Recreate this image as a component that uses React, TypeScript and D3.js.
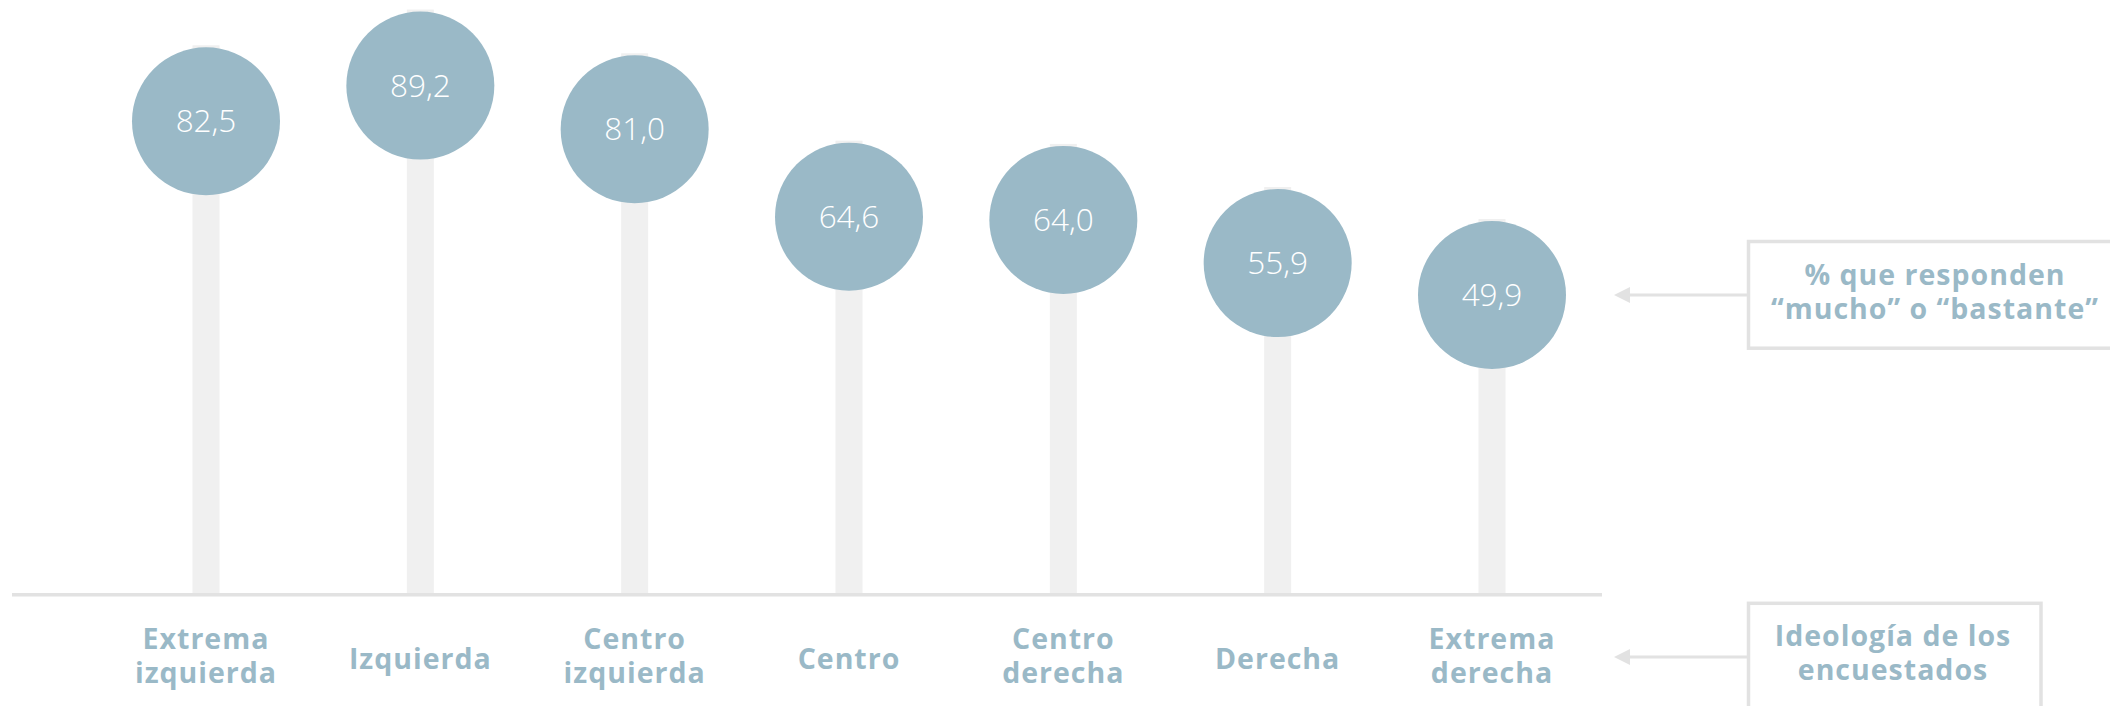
import React from "react";
import * as d3 from "d3";

const categories = [
  "Extrema izquierda",
  "Izquierda",
  "Centro izquierda",
  "Centro",
  "Centro derecha",
  "Derecha",
  "Extrema derecha",
];
const labelLines = [
  ["Extrema", "izquierda"],
  ["Izquierda"],
  ["Centro", "izquierda"],
  ["Centro"],
  ["Centro", "derecha"],
  ["Derecha"],
  ["Extrema", "derecha"],
];
const values = [82.5, 89.2, 81.0, 64.6, 64.0, 55.9, 49.9];
const valueNote = ["% que responden", "\u201cmucho\u201d o \u201cbastante\u201d"];
const axisNote = ["Ideología de los", "encuestados"];

const W = 2110;
const H = 706;
const BLUE = "#9ab9c7";
const STEM = "#f0f0f0";
const GREY = "#e2e2e2";
const R = 74;
const AXIS_Y = 593;

const locale = d3.formatLocale({ decimal: ",", thousands: ".", grouping: [3], currency: ["", "€"] });
const fmt = locale.format(".1f");

export default function App() {
  const x = d3.scalePoint<string>().domain(categories).range([206, 1492]);
  const y = d3.scaleLinear().domain([0, 100]).range([561, 28]);
  const lastY = y(values[values.length - 1]);
  const font = "'Open Sans', sans-serif";

  return (
    <svg
      width={W}
      height={H}
      style={{ position: "absolute", left: 0, top: 0, background: "#fff" }}
    >
      {/* stems */}
      {categories.map((c, i) => {
        const cx = x(c)!;
        const cy = y(values[i]);
        return (
          <rect
            key={"s" + c}
            x={cx - 13.5}
            y={cy - R - 2}
            width={27}
            height={AXIS_Y - (cy - R - 2)}
            fill={STEM}
          />
        );
      })}
      {/* axis line */}
      <rect x={12} y={AXIS_Y} width={1602 - 12} height={3.5} fill={GREY} />
      {/* circles */}
      {categories.map((c, i) => {
        const cx = x(c)!;
        const cy = y(values[i]);
        return (
          <g key={"c" + c}>
            <circle cx={cx} cy={cy} r={R} fill={BLUE} />
            <text
              x={cx}
              y={cy + 11}
              textAnchor="middle"
              fill="#fff"
              fontFamily={font}
              fontWeight={300}
              fontSize={31.5}
            >
              {fmt(values[i])}
            </text>
          </g>
        );
      })}
      {/* category labels */}
      {categories.map((c, i) => {
        const lines = labelLines[i];
        const base = lines.length === 1 ? [669] : [649, 683];
        return (
          <text
            key={"l" + c}
            textAnchor="middle"
            fill={BLUE}
            fontFamily={font}
            fontWeight={700}
            fontSize={28.5}
            letterSpacing={1}
          >
            {lines.map((ln, j) => (
              <tspan key={j} x={x(c)!} y={base[j]}>
                {ln}
              </tspan>
            ))}
          </text>
        );
      })}
      {/* annotation: values */}
      <rect x={1748.5} y={241.5} width={400} height={106.7} fill="none" stroke={GREY} strokeWidth={3.5} />
      <line x1={1747} y1={lastY} x2={1628} y2={lastY} stroke={GREY} strokeWidth={3} />
      <path d={`M1614,${lastY} L1630,${lastY - 8} L1630,${lastY + 8} Z`} fill={GREY} />
      <text textAnchor="middle" fill={BLUE} fontFamily={font} fontWeight={700} fontSize={28.5} letterSpacing={1}>
        {valueNote.map((ln, j) => (
          <tspan key={j} x={1935} y={285 + j * 34}>
            {ln}
          </tspan>
        ))}
      </text>
      {/* annotation: axis */}
      <rect x={1748.5} y={603.3} width={292.5} height={140} fill="none" stroke={GREY} strokeWidth={3.5} />
      <line x1={1747} y1={657} x2={1628} y2={657} stroke={GREY} strokeWidth={3} />
      <path d={`M1614,657 L1630,649 L1630,665 Z`} fill={GREY} />
      <text textAnchor="middle" fill={BLUE} fontFamily={font} fontWeight={700} fontSize={28.5} letterSpacing={1}>
        {axisNote.map((ln, j) => (
          <tspan key={j} x={1893} y={646 + j * 34}>
            {ln}
          </tspan>
        ))}
      </text>
    </svg>
  );
}
